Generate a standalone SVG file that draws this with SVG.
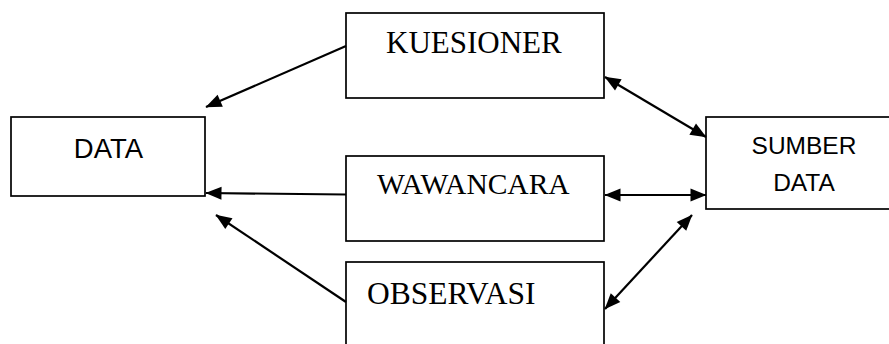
<svg xmlns="http://www.w3.org/2000/svg" width="889" height="344" viewBox="0 0 889 344">
  <style>
    .box { fill: #ffffff; stroke: #000000; stroke-width: 1.7; }
    .serif { font-family: "Liberation Serif", "Times New Roman", serif; fill: #000000; }
    .sans { font-family: "Liberation Sans", Arial, sans-serif; fill: #000000; }
    .link { stroke: #000000; stroke-width: 2.2; fill: none; }
    .one { marker-end: url(#head); }
    .both { marker-start: url(#head); marker-end: url(#head); }
  </style>
  <defs>
    <marker id="head" markerUnits="userSpaceOnUse" viewBox="0 0 16 13" markerWidth="16" markerHeight="13" refX="15.5" refY="6.5" orient="auto-start-reverse" overflow="visible">
      <path d="M0,0 L16,6.5 L0,13 z" fill="#000000"/>
    </marker>
  </defs>
  <rect width="889" height="344" fill="#ffffff"/>

  <g id="data">
    <rect class="box" x="11" y="117" width="194" height="79"/>
    <text class="sans" x="108.5" y="158" font-size="27.5" text-anchor="middle">DATA</text>
  </g>

  <g id="kuesioner">
    <rect class="box" x="346" y="13" width="258" height="85"/>
    <text class="serif" x="386" y="53" font-size="31">KUESIONER</text>
  </g>

  <g id="wawancara">
    <rect class="box" x="346" y="156" width="258" height="85"/>
    <text class="serif" x="377" y="194" font-size="29.5">WAWANCARA</text>
  </g>

  <g id="observasi">
    <rect class="box" x="346" y="262" width="258" height="95"/>
    <text class="serif" x="367" y="304" font-size="31.5">OBSERVASI</text>
  </g>

  <g id="sumber-data">
    <rect class="box" x="706" y="117" width="200" height="92"/>
    <text class="sans" x="804" y="154" font-size="24.5" text-anchor="middle">SUMBER</text>
    <text class="sans" x="804" y="191" font-size="24.5" text-anchor="middle">DATA</text>
  </g>

  <g id="connectors">
    <path class="link one" d="M346,46 L206,107"/>
    <path class="link one" d="M346,194.5 L206,193"/>
    <path class="link one" d="M346,302 L216,215"/>
    <path class="link both" d="M605,77 L706,137"/>
    <path class="link both" d="M605,195 L706,195"/>
    <path class="link both" d="M605,309 L692,215"/>
  </g>
</svg>
